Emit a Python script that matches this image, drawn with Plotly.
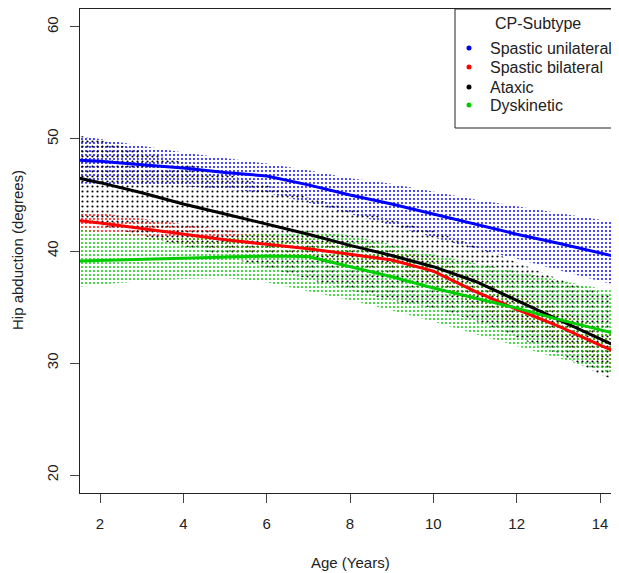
import plotly.graph_objects as go

# ---------------- data ----------------
ages = [1.5, 2, 3, 4, 5, 6, 7, 8, 9, 10, 11, 12, 13, 14, 14.5]

groups = ["Spastic unilateral", "Spastic bilateral", "Ataxic", "Dyskinetic"]
colors = ["#0000FF", "#FF0000", "#000000", "#00CD00"]

uni_mean  = [48.1, 48.0, 47.7, 47.4, 47.0, 46.7, 45.9, 45.0, 44.2, 43.3, 42.4, 41.5, 40.7, 39.8, 39.4]
uni_upper = [50.3, 50.0, 49.4, 48.8, 48.3, 47.8, 47.2, 46.5, 46.0, 45.3, 44.6, 44.0, 43.4, 42.8, 42.5]
uni_lower = [46.0, 46.0, 45.9, 45.8, 45.5, 45.2, 44.3, 43.3, 42.3, 41.2, 40.2, 39.3, 38.3, 37.3, 36.9]

bil_mean  = [42.7, 42.5, 42.0, 41.5, 41.0, 40.6, 40.2, 39.7, 39.2, 38.2, 36.4, 34.8, 33.3, 31.6, 30.8]
bil_upper = [43.6, 43.4, 42.9, 42.4, 41.9, 41.5, 41.1, 40.7, 40.2, 39.4, 37.7, 36.2, 34.8, 33.2, 32.5]
bil_lower = [41.8, 41.6, 41.1, 40.6, 40.1, 39.7, 39.3, 38.7, 38.2, 37.0, 35.1, 33.4, 31.8, 30.0, 29.1]

atx_mean  = [46.5, 46.1, 45.2, 44.2, 43.3, 42.4, 41.5, 40.5, 39.6, 38.6, 37.3, 35.6, 33.9, 32.2, 31.3]
atx_upper = [50.3, 49.9, 48.9, 47.9, 46.9, 45.9, 44.8, 43.8, 42.8, 41.8, 40.5, 39.0, 37.5, 36.3, 35.8]
atx_lower = [42.7, 42.3, 41.4, 40.4, 39.5, 38.5, 37.5, 36.5, 35.6, 34.9, 33.8, 32.3, 30.8, 29.0, 28.2]

dys_mean  = [39.1, 39.15, 39.25, 39.35, 39.45, 39.55, 39.5, 38.6, 37.7, 36.7, 35.8, 34.9, 33.9, 33.0, 32.5]
dys_upper = [41.9, 41.7, 41.4, 41.2, 41.3, 41.6, 41.8, 41.4, 40.6, 39.7, 38.9, 38.2, 37.4, 36.7, 36.3]
dys_lower = [36.8, 37.0, 37.3, 37.5, 37.6, 37.2, 36.4, 35.6, 34.7, 33.7, 32.6, 31.5, 30.4, 29.3, 28.8]

means  = [uni_mean, bil_mean, atx_mean, dys_mean]
uppers = [uni_upper, bil_upper, atx_upper, dys_upper]
lowers = [uni_lower, bil_lower, atx_lower, dys_lower]

x_ticks = [2, 4, 6, 8, 10, 12, 14]
y_ticks = [20, 30, 40, 50, 60]

# ---------------- figure ----------------
OFF = 8                      # page body margin of the browser
W, H = 619 - OFF, 573 - OFF
L, R, T, B = 80 - OFF, 0, 9 - OFF, 80
PW, PH = W - L - R, H - T - B

fig = go.Figure()

pat_sizes = [4, 4, 5, 4]
pat_solid = [0.18, 0.18, 0.15, 0.18]
for i in range(4):
    fig.add_trace(go.Scatter(x=ages, y=lowers[i], mode="lines",
                             line=dict(width=0, color=colors[i]),
                             hoverinfo="skip", showlegend=False))
    fig.add_trace(go.Scatter(x=ages, y=uppers[i], mode="lines",
                             line=dict(width=0, color=colors[i]),
                             fill="tonexty", fillcolor="rgba(0,0,0,0)",
                             fillpattern=dict(shape=".", fgcolor=colors[i],
                                              bgcolor="rgba(0,0,0,0)",
                                              fillmode="replace",
                                              size=pat_sizes[i],
                                              solidity=pat_solid[i]),
                             hoverinfo="skip", showlegend=False))

for i in range(4):
    fig.add_trace(go.Scatter(x=ages, y=means[i], mode="lines", name=groups[i],
                             line=dict(width=3, color=colors[i]),
                             showlegend=False))

# reference-picture pixel -> paper coordinates
def px(p):
    return (p - OFF - L) / PW

def py(p):
    return (H - B - (p - OFF)) / PH

font = "Liberation Sans, Arial, sans-serif"
shapes = []
annotations = []

# legend box
shapes.append(dict(type="rect", xref="paper", yref="paper",
                   x0=px(455), x1=px(640), y0=py(128), y1=py(9),
                   line=dict(color="#222", width=1), fillcolor="white",
                   layer="above"))
annotations.append(dict(text="CP-Subtype", xref="paper", yref="paper",
                        x=px(538), y=py(23), showarrow=False,
                        xanchor="center", yanchor="middle",
                        font=dict(family=font, size=16, color="#222")))
rows = [48, 67, 87, 105]
for i in range(4):
    shapes.append(dict(type="circle", xref="paper", yref="paper",
                       xsizemode="pixel", ysizemode="pixel",
                       xanchor=px(469), yanchor=py(rows[i]),
                       x0=-2.5, x1=2.5, y0=-2.5, y1=2.5,
                       fillcolor=colors[i], line=dict(width=0),
                       layer="above"))
    annotations.append(dict(text=groups[i], xref="paper", yref="paper",
                            x=px(488), y=py(rows[i]), showarrow=False,
                            xanchor="left", yanchor="middle",
                            font=dict(family=font, size=16, color="#222")))

# axis titles
annotations.append(dict(text="Age (Years)", xref="paper", yref="paper",
                        x=px(350), y=py(562), showarrow=False,
                        xanchor="center", yanchor="middle",
                        font=dict(family=font, size=15, color="#222")))
annotations.append(dict(text="Hip abduction (degrees)", xref="paper", yref="paper",
                        x=px(18), y=py(250), showarrow=False, textangle=-90,
                        xanchor="center", yanchor="middle",
                        font=dict(family=font, size=15, color="#222")))

fig.update_layout(
    width=W, height=H,
    margin=dict(l=L, r=R, t=T, b=B, pad=0),
    paper_bgcolor="white", plot_bgcolor="white",
    shapes=shapes, annotations=annotations,
    showlegend=False,
    font=dict(family=font, size=15, color="#222"),
)
fig.update_xaxes(range=[1.52, 1.52 + PW / 41.67], tickvals=x_ticks,
                 ticktext=[str(v) for v in x_ticks],
                 showgrid=False, zeroline=False,
                 showline=True, linecolor="#222", linewidth=1, mirror=True,
                 ticks="outside", ticklen=9, tickcolor="#444", tickwidth=1,
                 ticklabelstandoff=8,
                 tickfont=dict(family=font, size=15, color="#222"))
fig.update_yaxes(range=[18.4, 61.6], tickvals=y_ticks,
                 ticktext=[str(v) for v in y_ticks],
                 showgrid=False, zeroline=False,
                 showline=True, linecolor="#222", linewidth=1, mirror=False,
                 ticks="outside", ticklen=9, tickcolor="#444", tickwidth=1,
                 tickangle=-90, ticklabelstandoff=6,
                 tickfont=dict(family=font, size=15, color="#222"))

fig.write_html("out.html")
